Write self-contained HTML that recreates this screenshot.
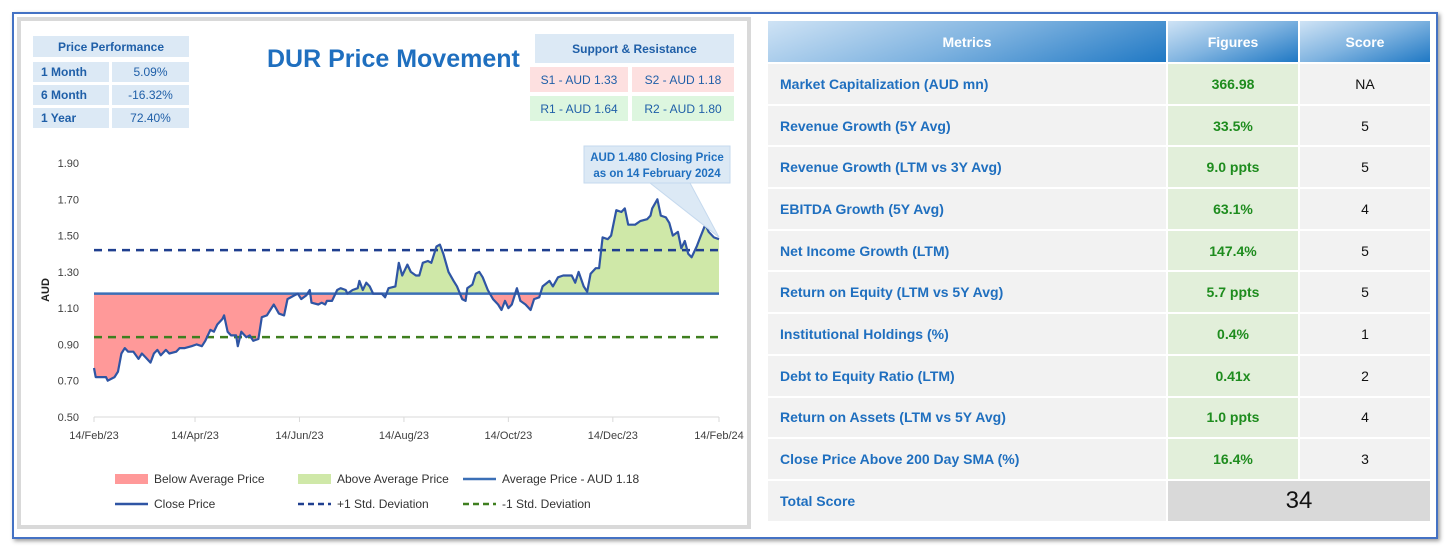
<!DOCTYPE html>
<html><head><meta charset="utf-8">
<style>
body{margin:0;width:1452px;height:548px;background:#fff;font-family:"Liberation Sans",sans-serif;position:relative;overflow:hidden}
.abs{position:absolute}
.cell{position:absolute;display:flex;align-items:center;justify-content:center;font-size:12px;color:#1f5fa8;font-family:"Liberation Sans Narrow","Liberation Sans",sans-serif}
table.m{position:absolute;left:766px;top:19px;width:664px;border-collapse:collapse;table-layout:fixed}
table.m td{height:39.7px;border:2px solid #fff;padding:0;font-size:14px}
table.m td.n{color:#1f6fbf;font-weight:bold;padding-left:12px;background:#f2f2f2}
table.m td.f{color:#1e8c1e;font-weight:bold;text-align:center;background:#e2efda}
table.m td.s{color:#111;text-align:center;background:#f2f2f2}
table.m th{height:39px;border:2px solid #fff;color:#fff;font-size:14px;background:linear-gradient(160deg,#cfe3f5 0%,#7fb3e0 50%,#1f78c4 100%)}
</style></head><body>
<div class="abs" style="left:12px;top:12px;width:1422px;height:523px;border:2px solid #4472c4;box-shadow:2px 2px 4px #999"></div>
<div class="abs" style="left:17px;top:17px;width:726px;height:504px;border:4px solid #d9d9d9;background:#fff"></div>

<div class="cell" style="left:33px;top:36px;width:156px;height:21px;background:#dce9f5;font-weight:bold">Price Performance</div>
<div class="cell" style="left:33px;top:62px;width:76px;height:20px;background:#dce9f5;font-weight:bold;justify-content:flex-start;padding-left:8px;box-sizing:border-box">1 Month</div>
<div class="cell" style="left:112px;top:62px;width:77px;height:20px;background:#dce9f5">5.09%</div>
<div class="cell" style="left:33px;top:85px;width:76px;height:20px;background:#dce9f5;font-weight:bold;justify-content:flex-start;padding-left:8px;box-sizing:border-box">6 Month</div>
<div class="cell" style="left:112px;top:85px;width:77px;height:20px;background:#dce9f5">-16.32%</div>
<div class="cell" style="left:33px;top:108px;width:76px;height:20px;background:#dce9f5;font-weight:bold;justify-content:flex-start;padding-left:8px;box-sizing:border-box">1 Year</div>
<div class="cell" style="left:112px;top:108px;width:77px;height:20px;background:#dce9f5">72.40%</div>

<div class="abs" style="left:267px;top:45px;font-size:25px;font-weight:bold;color:#1f6fbf">DUR Price Movement</div>

<div class="cell" style="left:535px;top:34px;width:199px;height:29px;background:#dce9f5;font-weight:bold">Support &amp; Resistance</div>
<div class="cell" style="left:530px;top:67px;width:98px;height:25px;background:#fde0e0">S1 - AUD 1.33</div>
<div class="cell" style="left:632px;top:67px;width:102px;height:25px;background:#fde0e0">S2 - AUD 1.18</div>
<div class="cell" style="left:530px;top:96px;width:98px;height:25px;background:#ddf6df">R1 - AUD 1.64</div>
<div class="cell" style="left:632px;top:96px;width:102px;height:25px;background:#ddf6df">R2 - AUD 1.80</div>

<svg class="abs" style="left:0;top:0" width="760" height="548" id="chart"></svg>

<table class="m">
<colgroup><col style="width:400px"><col style="width:132px"><col style="width:132px"></colgroup>
<tr><th>Metrics</th><th>Figures</th><th>Score</th></tr>
<tr><td class="n">Market Capitalization (AUD mn)</td><td class="f">366.98</td><td class="s">NA</td></tr>
<tr><td class="n">Revenue Growth (5Y Avg)</td><td class="f">33.5%</td><td class="s">5</td></tr>
<tr><td class="n">Revenue Growth (LTM vs 3Y Avg)</td><td class="f">9.0 ppts</td><td class="s">5</td></tr>
<tr><td class="n">EBITDA Growth (5Y Avg)</td><td class="f">63.1%</td><td class="s">4</td></tr>
<tr><td class="n">Net Income Growth (LTM)</td><td class="f">147.4%</td><td class="s">5</td></tr>
<tr><td class="n">Return on Equity (LTM vs 5Y Avg)</td><td class="f">5.7 ppts</td><td class="s">5</td></tr>
<tr><td class="n">Institutional Holdings (%)</td><td class="f">0.4%</td><td class="s">1</td></tr>
<tr><td class="n">Debt to Equity Ratio (LTM)</td><td class="f">0.41x</td><td class="s">2</td></tr>
<tr><td class="n">Return on Assets (LTM vs 5Y Avg)</td><td class="f">1.0 ppts</td><td class="s">4</td></tr>
<tr><td class="n">Close Price Above 200 Day SMA (%)</td><td class="f">16.4%</td><td class="s">3</td></tr>
<tr><td class="n">Total Score</td><td colspan="2" style="background:#d9d9d9;text-align:center;font-size:24px;color:#111">34</td></tr>
</table>

<script>
const days=[0,1,7,8,12,14,16,18,20,23,26,28,30,33,35,37,39,42,44,48,50,53,57,60,63,65,68,70,72,75,76,78,80,83,84,86,89,91,93,96,98,101,105,108,111,113,117,119,121,124,126,127,131,133,135,136,139,142,144,147,148,151,154,155,157,159,161,163,168,170,172,176,178,180,183,185,188,190,192,195,197,200,202,204,207,210,212,215,217,218,221,223,225,227,230,233,236,238,240,242,244,247,249,252,255,257,260,262,266,268,271,274,276,279,281,283,286,288,290,293,295,297,300,302,305,308,310,312,316,319,323,325,326,329,331,334,336,338,341,343,345,347,349,352,354,357,359,362,365];
const prices=[0.77,0.72,0.72,0.70,0.72,0.75,0.85,0.88,0.86,0.86,0.82,0.85,0.83,0.80,0.85,0.87,0.84,0.87,0.85,0.86,0.88,0.88,0.89,0.90,0.89,0.92,0.98,0.97,1.01,1.04,1.06,0.97,0.95,0.95,0.89,0.97,0.94,0.95,0.92,0.93,1.05,1.06,1.12,1.07,1.06,1.15,1.17,1.18,1.15,1.17,1.20,1.13,1.12,1.13,1.12,1.14,1.14,1.20,1.21,1.20,1.18,1.20,1.21,1.25,1.20,1.24,1.22,1.18,1.18,1.16,1.21,1.22,1.35,1.28,1.34,1.30,1.28,1.28,1.35,1.36,1.35,1.44,1.45,1.40,1.30,1.25,1.22,1.15,1.14,1.21,1.23,1.29,1.30,1.27,1.20,1.15,1.12,1.09,1.14,1.10,1.12,1.21,1.14,1.12,1.09,1.15,1.16,1.22,1.25,1.22,1.27,1.28,1.28,1.28,1.24,1.30,1.22,1.19,1.29,1.32,1.32,1.49,1.48,1.50,1.64,1.63,1.65,1.56,1.56,1.58,1.59,1.61,1.65,1.70,1.61,1.60,1.57,1.50,1.52,1.43,1.47,1.40,1.38,1.44,1.49,1.56,1.52,1.49,1.48];
const avgPrice=1.18, plusSD=1.42, minusSD=0.94;
const yTicks=[0.50,0.70,0.90,1.10,1.30,1.50,1.70,1.90];
const xTickDays=[0,59,120,181,242,303,365];
const xTickLabels=["14/Feb/23","14/Apr/23","14/Jun/23","14/Aug/23","14/Oct/23","14/Dec/23","14/Feb/24"];
const X0=94,X1=719,Y0=417,Y1=163,VMIN=0.5,VMAX=1.9,DMAX=365;
const sx=d=>X0+(d/DMAX)*(X1-X0);
const sy=v=>Y0-(v-VMIN)/(VMAX-VMIN)*(Y0-Y1);
const svg=document.getElementById('chart');
const NS='http://www.w3.org/2000/svg';
function mk(t,a,p){const e=document.createElementNS(NS,t);for(const k in a)e.setAttribute(k,a[k]);(p||svg).appendChild(e);return e;}
const defs=mk('defs',{});
const ya=sy(avgPrice);
const ca=mk('clipPath',{id:'above'},defs);mk('rect',{x:0,y:0,width:760,height:ya},ca);
const cb=mk('clipPath',{id:'below'},defs);mk('rect',{x:0,y:ya,width:760,height:548},cb);
let pts=days.map((d,i)=>sx(d).toFixed(1)+','+sy(prices[i]).toFixed(1));
const poly=sx(days[0])+','+ya+' '+pts.join(' ')+' '+sx(days[days.length-1])+','+ya;
let e;
e=mk('polygon',{points:poly,fill:'#ff9999','clip-path':'url(#below)'});


e=mk('polygon',{points:poly,fill:'#cfe8a8','clip-path':'url(#above)'});


mk('line',{x1:X0,y1:Y0,x2:X1,y2:Y0,stroke:'#d9d9d9'});
yTicks.forEach(v=>{e=mk('text',{x:79,y:sy(v)+4,'text-anchor':'end','font-size':11,fill:'#404040'});e.textContent=v.toFixed(2);

});
xTickDays.forEach((d,i)=>{mk('line',{x1:sx(d),y1:Y0,x2:sx(d),y2:Y0+5,stroke:'#d9d9d9'});
e=mk('text',{x:sx(d),y:Y0+22,'text-anchor':'middle','font-size':11,fill:'#404040'});e.textContent=xTickLabels[i];

});
e=mk('text',{x:0,y:0,transform:'translate(49,290) rotate(-90)','text-anchor':'middle','font-size':11,'font-weight':'bold',fill:'#222'});e.textContent='AUD';


e=mk('line',{x1:X0,y1:ya,x2:X1,y2:ya,stroke:'#3b6fb6','stroke-width':2.5});


e=mk('line',{x1:X0,y1:sy(plusSD),x2:X1,y2:sy(plusSD),stroke:'#1f3f8f','stroke-width':2.5,'stroke-dasharray':'8,6'});


e=mk('line',{x1:X0,y1:sy(minusSD),x2:X1,y2:sy(minusSD),stroke:'#3f7f1f','stroke-width':2.5,'stroke-dasharray':'8,6'});


e=mk('polyline',{points:pts.join(' '),fill:'none',stroke:'#2f55a4','stroke-width':2.2,'stroke-linejoin':'round'});


const lx=sx(days[days.length-1]),ly=sy(prices[prices.length-1]);
e=mk('polygon',{points:`650,183 690,183 ${lx},${ly-2}`,fill:'#dce9f5',stroke:'#c5d9ee'});


e=mk('rect',{x:584,y:146,width:146,height:37,fill:'#dce9f5',stroke:'#c5d9ee'});


e=mk('text',{x:657,y:161,'text-anchor':'middle','font-size':11.5,'font-weight':'bold',fill:'#1f6fbf'});e.textContent='AUD 1.480 Closing Price';


e=mk('text',{x:657,y:177,'text-anchor':'middle','font-size':11.5,'font-weight':'bold',fill:'#1f6fbf'});e.textContent='as on 14 February 2024';


function leg(type,x,y,color,label,name){
 if(type==='box')mk('rect',{x:x,y:y-5,width:33,height:10,fill:color});
 else mk('line',{x1:x,y1:y,x2:x+33,y2:y,stroke:color,'stroke-width':2.5,'stroke-dasharray':type==='dash'?'6,4':'none'});
 const t=mk('text',{x:x+39,y:y+4,'font-size':12,fill:'#333'});t.textContent=label;
 
 
}
leg('box',115,479,'#ff9999','Below Average Price','legend-below-average');
leg('box',298,479,'#cfe8a8','Above Average Price','legend-above-average');
leg('line',463,479,'#3b6fb6','Average Price - AUD 1.18','legend-average-price');
leg('line',115,504,'#2f55a4','Close Price','legend-close-price');
leg('dash',298,504,'#1f3f8f','+1 Std. Deviation','legend-plus-sd');
leg('dash',463,504,'#3f7f1f','-1 Std. Deviation','legend-minus-sd');
</script>
</body></html>
